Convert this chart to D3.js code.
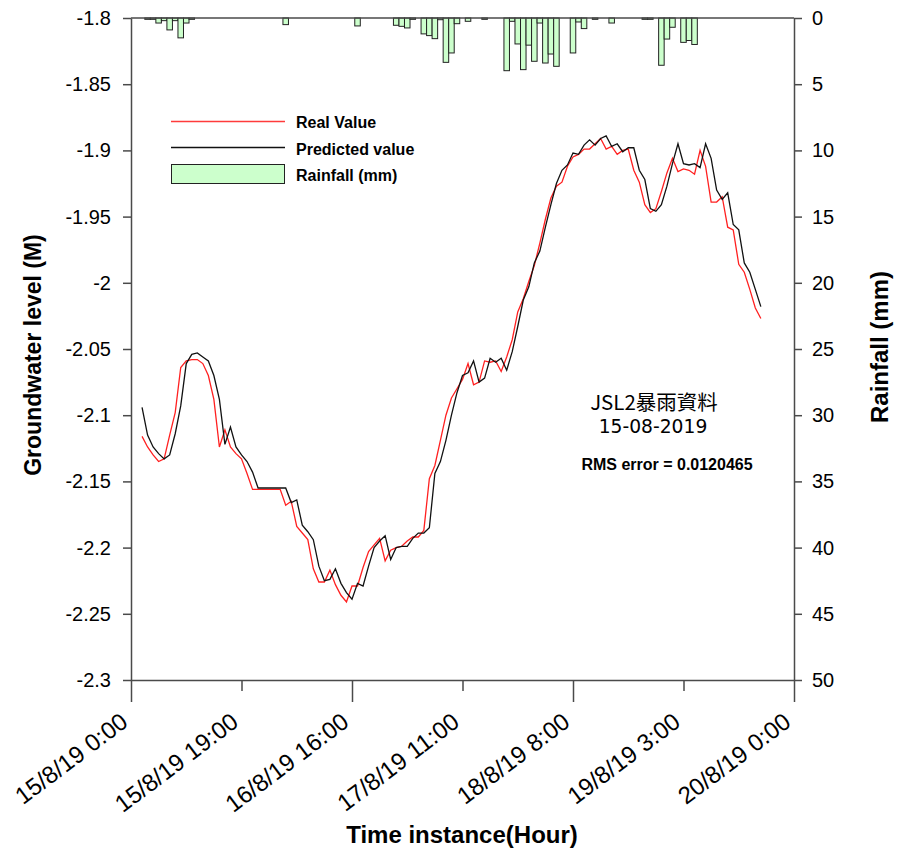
<!DOCTYPE html>
<html>
<head>
<meta charset="utf-8">
<script src="https://cdn.jsdelivr.net/npm/d3@7"></script>
<style>
  body { margin: 0; background: #fff; }
  svg { display: block; }
</style>
</head>
<body>
<svg id="chart" width="897" height="854"></svg>
<script>
// Hourly record, hours counted from 15/8/19 0:00
const hours = d3.range(2, 115);

// Groundwater level (m), measured
const realValue = [
  -2.116, -2.124, -2.130, -2.135, -2.133, -2.115, -2.098, -2.064, -2.059, -2.058,
  -2.058, -2.061, -2.070, -2.088, -2.124, -2.111, -2.124, -2.129, -2.133, -2.144,
  -2.156, -2.156, -2.156, -2.156, -2.156, -2.156, -2.168, -2.165, -2.184, -2.189,
  -2.194, -2.216, -2.226, -2.226, -2.217, -2.228, -2.236, -2.241, -2.229, -2.229,
  -2.215, -2.203, -2.198, -2.193, -2.210, -2.202, -2.200, -2.199, -2.195, -2.192,
  -2.192, -2.187, -2.148, -2.138, -2.119, -2.100, -2.087, -2.080, -2.073, -2.061,
  -2.077, -2.075, -2.059, -2.060, -2.059, -2.067, -2.056, -2.043, -2.022, -2.012,
  -1.999, -1.987, -1.970, -1.952, -1.936, -1.927, -1.924, -1.912, -1.905, -1.903,
  -1.899, -1.899, -1.895, -1.891, -1.899, -1.897, -1.903, -1.900, -1.899, -1.915,
  -1.924, -1.941, -1.947, -1.944, -1.931, -1.917, -1.906, -1.916, -1.914, -1.915,
  -1.918, -1.900, -1.912, -1.939, -1.939, -1.935, -1.958, -1.960, -1.986, -1.992,
  -2.005, -2.019, -2.027
];

// Groundwater level (m), model output
const predictedValue = [
  -2.094, -2.115, -2.124, -2.129, -2.133, -2.130, -2.114, -2.093, -2.061, -2.054,
  -2.053, -2.056, -2.059, -2.070, -2.088, -2.122, -2.109, -2.124, -2.130, -2.135,
  -2.143, -2.155, -2.155, -2.155, -2.155, -2.155, -2.155, -2.166, -2.164, -2.183,
  -2.188, -2.194, -2.214, -2.225, -2.224, -2.216, -2.227, -2.234, -2.239, -2.227,
  -2.229, -2.214, -2.200, -2.195, -2.191, -2.209, -2.200, -2.199, -2.199, -2.193,
  -2.189, -2.189, -2.185, -2.144, -2.135, -2.119, -2.100, -2.083, -2.070, -2.068,
  -2.059, -2.075, -2.072, -2.057, -2.060, -2.057, -2.066, -2.052, -2.033, -2.013,
  -2.003, -1.985, -1.976, -1.958, -1.941, -1.925, -1.915, -1.911, -1.902, -1.903,
  -1.896, -1.892, -1.896, -1.891, -1.889, -1.897, -1.895, -1.901, -1.898, -1.898,
  -1.915, -1.922, -1.944, -1.946, -1.941, -1.927, -1.910, -1.895, -1.910, -1.911,
  -1.910, -1.913, -1.895, -1.906, -1.930, -1.937, -1.932, -1.956, -1.960, -1.985,
  -1.992, -2.005, -2.018
];

// Hourly rainfall (mm)
const rainfall = [
  0, 0.1, 0.1, 0.38, 0.2, 0.9, 0.2, 1.5, 0.38, 0.1,
  0, 0, 0, 0, 0, 0, 0, 0, 0, 0,
  0, 0, 0, 0, 0, 0, 0.5, 0, 0, 0,
  0, 0, 0, 0, 0, 0, 0, 0, 0, 0.6,
  0, 0, 0, 0, 0, 0, 0.55, 0.63, 0.75, 0.1,
  0, 1.2, 1.33, 1.56, 0.13, 3.35, 2.64, 0.43, 0, 0.25,
  0, 0, 0.1, 0, 0, 0, 3.98, 0.25, 1.96, 3.9,
  2.05, 3.27, 0.38, 3.4, 2.72, 3.65, 0, 0, 2.64, 0.3,
  0.8, 0, 0.1, 0, 0, 0.38, 0, 0, 0, 0,
  0, 0.1, 0.1, 0, 3.57, 1.59, 0.7, 0, 1.84, 1.7,
  2.0, 0, 0, 0, 0, 0, 0, 0, 0, 0,
  0, 0, 0
];

// Axis ticks
const timeTickHours = [0, 20, 40, 60, 80, 100, 120];
const timeTickLabels = ["15/8/19 0:00", "15/8/19 19:00", "16/8/19 16:00", "17/8/19 11:00",
                        "18/8/19 8:00", "19/8/19 3:00", "20/8/19 0:00"];
const levelTicks = [-1.8, -1.85, -1.9, -1.95, -2, -2.05, -2.1, -2.15, -2.2, -2.25, -2.3];
const levelTickLabels = ["-1.8", "-1.85", "-1.9", "-1.95", "-2", "-2.05", "-2.1", "-2.15", "-2.2", "-2.25", "-2.3"];
const rainTicks = [0, 5, 10, 15, 20, 25, 30, 35, 40, 45, 50];

const legendItems = ["Real Value", "Predicted value", "Rainfall (mm)"];

const svg = d3.select("#chart");
const plot = { left: 131, right: 794, top: 18, bottom: 680 };
const FONT = "'Liberation Sans', Arial, sans-serif";
const CJK_FONT = "'Noto Sans CJK TC', 'Noto Sans CJK JP', sans-serif";
const AXIS_COLOR = "#4a4a4a";
const RED = "#ff2020";
const GREEN = "#ccffcc";

const x = d3.scaleLinear().domain([0, 120]).range([plot.left, plot.right]);
const y = d3.scaleLinear().domain([-2.3, -1.8]).range([plot.bottom, plot.top]);
const yRain = d3.scaleLinear().domain([0, 50]).range([plot.top, plot.bottom]);

// Rainfall bars hanging from the top edge
const barW = x(1) - x(0);
svg.append("g")
  .selectAll("rect")
  .data(hours.map((h, i) => ({ h, v: rainfall[i] })))
  .join("rect")
  .attr("x", d => x(d.h) - barW / 2)
  .attr("y", yRain(0))
  .attr("width", barW)
  .attr("height", d => yRain(d.v) - yRain(0))
  .attr("fill", GREEN)
  .attr("stroke", "#222")
  .attr("stroke-width", 1);

// Groundwater lines
const line = d3.line().x((d, i) => x(hours[i])).y(d => y(d));
svg.append("path").datum(realValue)
  .attr("d", line).attr("fill", "none")
  .attr("stroke", RED).attr("stroke-width", 1.3);
svg.append("path").datum(predictedValue)
  .attr("d", line).attr("fill", "none")
  .attr("stroke", "#111").attr("stroke-width", 1.3);

// Left axis
const gLeft = svg.append("g").attr("transform", `translate(${plot.left},0)`)
  .call(d3.axisLeft(y).tickValues(levelTicks)
    .tickFormat((d, i) => levelTickLabels[i]).tickSize(8).tickSizeOuter(0).tickPadding(12));

// Right axis
const gRight = svg.append("g").attr("transform", `translate(${plot.right},0)`)
  .call(d3.axisRight(yRain).tickValues(rainTicks).tickSize(8).tickSizeOuter(0).tickPadding(10));

// Bottom axis: long and short ticks alternate
const gBottom = svg.append("g").attr("transform", `translate(0,${plot.bottom})`)
  .call(d3.axisBottom(x).tickValues(timeTickHours)
    .tickFormat((d, i) => timeTickLabels[i]).tickSize(22).tickSizeOuter(0));
gBottom.selectAll(".tick line")
  .attr("y2", (d, i) => (i % 2 === 0 ? 22 : 11));

// Top edge
svg.append("line")
  .attr("x1", plot.left).attr("x2", plot.right).attr("y1", plot.top).attr("y2", plot.top)
  .attr("stroke", AXIS_COLOR).attr("stroke-width", 1.5);

[gLeft, gRight, gBottom].forEach(g => {
  g.selectAll(".domain").attr("stroke", AXIS_COLOR).attr("stroke-width", 1.5);
  g.selectAll(".tick line").attr("stroke", AXIS_COLOR).attr("stroke-width", 1.5);
  g.selectAll(".tick text").attr("fill", "#000")
    .style("font-family", FONT).style("font-size", "20px");
});
gBottom.selectAll(".tick text")
  .attr("y", 0).attr("dy", 0)
  .attr("text-anchor", "end")
  .attr("transform", "translate(-2,45) rotate(-37)")
  .style("font-size", "24px");

// Axis titles
svg.append("text")
  .attr("transform", "translate(41,355) rotate(-90)")
  .attr("text-anchor", "middle")
  .style("font-family", FONT).style("font-size", "23px").style("font-weight", "bold")
  .text("Groundwater level (M)");
svg.append("text")
  .attr("transform", "translate(888,347) rotate(-90)")
  .attr("text-anchor", "middle")
  .style("font-family", FONT).style("font-size", "24px").style("font-weight", "bold")
  .text("Rainfall (mm)");
svg.append("text")
  .attr("x", 462).attr("y", 843)
  .attr("text-anchor", "middle")
  .style("font-family", FONT).style("font-size", "24px").style("font-weight", "bold")
  .text("Time instance(Hour)");

// Legend
const legend = svg.append("g");
legend.append("line").attr("x1", 171).attr("x2", 285).attr("y1", 121.5).attr("y2", 121.5)
  .attr("stroke", "#ff3b3b").attr("stroke-width", 1.6);
legend.append("line").attr("x1", 171).attr("x2", 285).attr("y1", 147.5).attr("y2", 147.5)
  .attr("stroke", "#111").attr("stroke-width", 1.3);
legend.append("rect").attr("x", 171.5).attr("y", 164.5).attr("width", 113).attr("height", 19)
  .attr("fill", GREEN).attr("stroke", "#222").attr("stroke-width", 1);
legend.selectAll("text").data(legendItems).join("text")
  .attr("x", 296).attr("y", (d, i) => 128 + i * 26.5)
  .style("font-family", FONT).style("font-size", "16px").style("font-weight", "bold")
  .text(d => d);

// Annotation: station, date and error score
svg.append("text").attr("x", 654).attr("y", 409.5)
  .attr("text-anchor", "middle")
  .style("font-family", CJK_FONT).style("font-size", "20.5px")
  .text("JSL2暴雨資料");
svg.append("text").attr("x", 653).attr("y", 433)
  .attr("text-anchor", "middle")
  .style("font-family", "'DejaVu Sans', sans-serif").style("font-size", "18.7px")
  .text("15-08-2019");
svg.append("text").attr("x", 667).attr("y", 470)
  .attr("text-anchor", "middle")
  .style("font-family", FONT).style("font-size", "16px").style("font-weight", "bold")
  .text("RMS error = 0.0120465");
</script>
</body>
</html>
